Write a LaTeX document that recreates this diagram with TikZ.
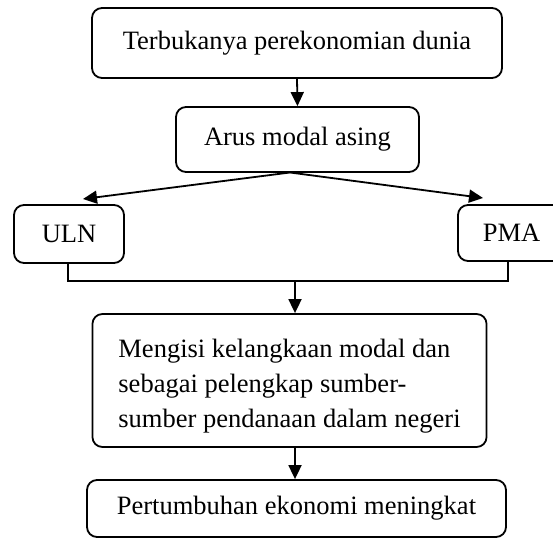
\documentclass[tikz,border=0pt]{standalone}
\usepackage{fontspec}
\setmainfont{Liberation Serif}
\usetikzlibrary{arrows.meta,calc}
\begin{document}
\begin{tikzpicture}[x=1pt,y=-1pt,
  box/.style={draw, line width=1.8pt, rounded corners=10pt, inner sep=0pt,
    font=\fontsize{26.5}{35}\selectfont},
  arr/.style={line width=1.8pt, -{Triangle[length=14pt,width=13pt]}},
  ln/.style={line width=1.8pt}]
\useasboundingbox (0,0) rectangle (553,540);
\clip (0,0) rectangle (553,540);
\node[box, minimum width=410pt, minimum height=70pt] (b1) at (297,43) {Terbukanya perekonomian dunia};
\node[box, minimum width=243pt, minimum height=65pt] (b2) at (297.5,139.5) {Arus modal asing};
\node[box, minimum width=110pt, minimum height=58pt] (uln) at (69,234) {ULN};
\node[box, minimum width=107pt, minimum height=56pt] (pma) at (511.5,233) {PMA};
\node[box, minimum width=393pt, minimum height=133pt, align=left, inner xsep=26pt] (b4) at (289.5,380.5) {\rule{0pt}{30pt}Mengisi kelangkaan modal dan\\sebagai pelengkap sumber-\\sumber pendanaan dalam negeri};
\node[box, minimum width=419pt, minimum height=57pt] (b5) at (296.5,508.5) {Pertumbuhan ekonomi meningkat};
\coordinate (fork) at (290,172.5);
\coordinate (ltip) at (83,199);
\coordinate (rtip) at (483,198);
\coordinate (j) at (295,281);
\draw[arr] (b1.south) -- (b2.north);
\draw[arr] (fork) -- (ltip);
\draw[arr] (fork) -- (rtip);
\draw[ln] ($(uln.south)+(-1,0)$) |- (j);
\draw[ln] ($(pma.south)+(-3.5,0)$) |- (j);
\draw[arr] (j) -- (j |- b4.north);
\draw[arr] (b4.south -| j) -- (b5.north -| j);
\end{tikzpicture}
\end{document}
